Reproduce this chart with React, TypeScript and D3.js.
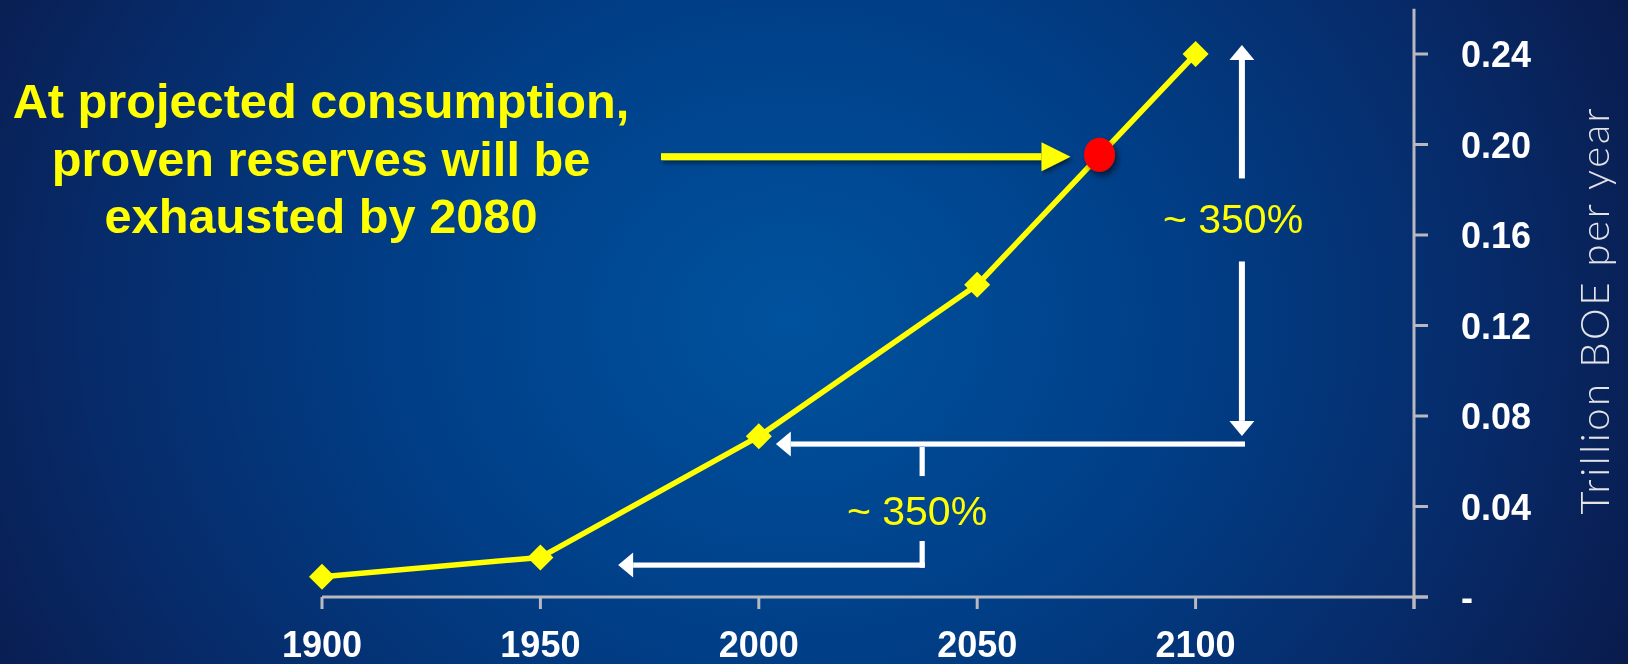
import React from "react";
import * as d3 from "d3";

const years = [1900, 1950, 2000, 2050, 2100];
const consumption = [0.009, 0.0175, 0.071, 0.138, 0.24];
const xTicks = [1900, 1950, 2000, 2050, 2100, 2150];
const xTickLabels = ["1900", "1950", "2000", "2050", "2100", ""];
const yTicks = [0, 0.04, 0.08, 0.12, 0.16, 0.2, 0.24];
const yTickLabels = ["-", "0.04", "0.08", "0.12", "0.16", "0.20", "0.24"];
const yAxisTitle = "Trillion BOE per year";
const exhaustYear = 2078;
const exhaustValue = 0.1955;
const noteLines = ["At projected consumption,", "proven reserves will be", "exhausted by 2080"];
const growthLabel = "~ 350%";

const W = 1628;
const H = 664;

export default function App() {
  const x = d3.scaleLinear().domain([1900, 2150]).range([322, 1414]);
  const y = d3.scaleLinear().domain([0, 0.26]).range([597, 8.75]);
  const pts = years.map((yr, i) => [x(yr), y(consumption[i])] as [number, number]);
  const line = d3.line<[number, number]>()(pts) || "";

  const axisColor = "#b8b8c0";
  const white = "#ffffff";
  const yellow = "#ffff00";

  const headL = 15;
  const headW = 12.5;

  const vx = x(2110.6);
  const upTip = y(0.244);
  const upShaftBottom = y(0.185);
  const downShaftTop = y(0.1483);
  const downTip = y(0.0712);
  const hy1 = y(0.0676);
  const hTip1 = x(2003.9);
  const hRight = x(2111.3);
  const cx = x(2037.4);
  const hy2 = y(0.0141);
  const hTip2 = x(1967.8);

  const yaX1 = 661;
  const yaTip = x(exhaustYear) - 29;
  const yaY = y(exhaustValue) + 2;

  return (
    <svg
      width={W}
      height={H}
      style={{ position: "fixed", left: 0, top: 0, display: "block" }}
    >
      <defs>
        <radialGradient id="bg" gradientUnits="userSpaceOnUse" cx={790} cy={320} r={900} gradientTransform="translate(790 320) scale(1.05 0.9) translate(-790 -320)">
          <stop offset="0" stopColor="#00529e" />
          <stop offset="0.4" stopColor="#003f88" />
          <stop offset="0.75" stopColor="#072a68" />
          <stop offset="1" stopColor="#0a1a4a" />
        </radialGradient>
        <filter id="shadow" x="-50%" y="-50%" width="200%" height="200%">
          <feDropShadow dx="3" dy="4" stdDeviation="3" floodColor="#000" floodOpacity="0.55" />
        </filter>
        <filter id="shadow2" x="-10%" y="-50%" width="120%" height="200%">
          <feDropShadow dx="2" dy="3" stdDeviation="2" floodColor="#000" floodOpacity="0.45" />
        </filter>
      </defs>
      <rect x={0} y={0} width={W} height={H} fill="url(#bg)" />

      <line x1={x(1900)} x2={x(2150) + 14} y1={y(0)} y2={y(0)} stroke={axisColor} strokeWidth={3} />
      <line x1={x(2150)} x2={x(2150)} y1={y(0.26)} y2={y(0) + 12} stroke={axisColor} strokeWidth={3} />
      {xTicks.map((t) => (
        <line key={"xt" + t} x1={x(t)} x2={x(t)} y1={y(0)} y2={y(0) + 12} stroke={axisColor} strokeWidth={3} />
      ))}
      {yTicks.map((t) => (
        <line key={"yt" + t} x1={x(2150)} x2={x(2150) + 14} y1={y(t)} y2={y(t)} stroke={axisColor} strokeWidth={3} />
      ))}
      {xTicks.map((t, i) => (
        <text
          key={"xl" + t}
          x={x(t)}
          y={657}
          textAnchor="middle"
          fill={white}
          fontFamily="'Liberation Sans', Arial, sans-serif"
          fontWeight="bold"
          fontSize={36}
        >
          {xTickLabels[i]}
        </text>
      ))}
      {yTicks.map((t, i) => (
        <text
          key={"yl" + t}
          x={1461}
          y={y(t) + 13}
          textAnchor="start"
          fill={white}
          fontFamily="'Liberation Sans', Arial, sans-serif"
          fontWeight="bold"
          fontSize={36}
        >
          {yTickLabels[i]}
        </text>
      ))}
      <text
        transform={`translate(1609, 310) rotate(-90)`}
        textAnchor="middle"
        fill="#e4e4e8"
        fontFamily="Lato, 'Open Sans', sans-serif"
        fontWeight={300}
        fontSize={40}
        letterSpacing={2.6}
      >
        {yAxisTitle}
      </text>

      <g fill={white} stroke="none">
        <rect x={vx - 3} y={upTip + headL} width={6} height={upShaftBottom - upTip - headL} />
        <polygon points={`${vx},${upTip} ${vx - headW},${upTip + headL} ${vx + headW},${upTip + headL}`} />
        <rect x={vx - 3} y={downShaftTop} width={6} height={downTip - headL - downShaftTop} />
        <polygon points={`${vx},${downTip} ${vx - headW},${downTip - headL} ${vx + headW},${downTip - headL}`} />
        <rect x={hTip1 + headL} y={hy1 - 2.6} width={hRight - hTip1 - headL} height={5.2} />
        <polygon points={`${hTip1},${hy1} ${hTip1 + headL},${hy1 - headW} ${hTip1 + headL},${hy1 + headW}`} />
        <rect x={cx - 2.6} y={hy1 + 3} width={5.2} height={29} />
        <rect x={cx - 2.6} y={541} width={5.2} height={hy2 - 541 + 2.6} />
        <rect x={hTip2 + headL} y={hy2 - 2.6} width={cx + 2.6 - hTip2 - headL} height={5.2} />
        <polygon points={`${hTip2},${hy2} ${hTip2 + headL},${hy2 - headW} ${hTip2 + headL},${hy2 + headW}`} />
      </g>

      <text x={1233} y={233} textAnchor="middle" fill={yellow} fontFamily="'Liberation Sans', Arial, sans-serif" fontSize={41}>
        {growthLabel}
      </text>
      <text x={917} y={525} textAnchor="middle" fill={yellow} fontFamily="'Liberation Sans', Arial, sans-serif" fontSize={41}>
        {growthLabel}
      </text>

      <path d={line} fill="none" stroke={yellow} strokeWidth={5.5} strokeLinejoin="round" />
      {pts.map((p, i) => (
        <rect
          key={"m" + i}
          x={p[0] - 9.2}
          y={p[1] - 9.2}
          width={18.4}
          height={18.4}
          fill={yellow}
          transform={`rotate(45 ${p[0]} ${p[1]})`}
        />
      ))}

      <g fill={yellow} filter="url(#shadow2)">
        <rect x={yaX1} y={yaY - 3.5} width={yaTip - 29 - yaX1} height={7} />
        <polygon points={`${yaTip},${yaY} ${yaTip - 29},${yaY - 14.5} ${yaTip - 29},${yaY + 14.5}`} />
      </g>

      <ellipse cx={x(exhaustYear)} cy={y(exhaustValue)} rx={15.5} ry={17} fill="#ff0000" filter="url(#shadow)" />

      {noteLines.map((t, i) => (
        <text
          key={"n" + i}
          x={321}
          y={118 + i * 57.5}
          textAnchor="middle"
          fill={yellow}
          fontFamily="'Liberation Sans', Arial, sans-serif"
          fontWeight="bold"
          fontSize={48.7}
        >
          {t}
        </text>
      ))}
    </svg>
  );
}
